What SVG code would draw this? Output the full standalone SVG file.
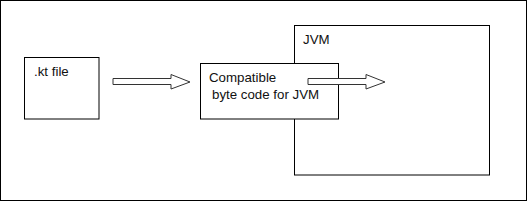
<svg xmlns="http://www.w3.org/2000/svg" width="527" height="201" viewBox="0 0 527 201">
<style>
.box{fill:#fff;stroke:#000;stroke-width:1}
.arrow{fill:#fff;stroke:#333;stroke-width:1}
text{font-family:"Liberation Sans",Arial,sans-serif;font-size:13.3px;fill:#111}
</style>
<rect x="0.5" y="0.5" width="526" height="200" fill="#fff" stroke="#000"/>
<g id="kt"><rect class="box" x="24.5" y="57.5" width="74.5" height="61.5"/><text x="34" y="76">.kt file</text></g>
<g id="jvm"><rect class="box" x="294.5" y="25.5" width="195" height="149.5"/><text x="303" y="44">JVM</text></g>
<g id="bytecode"><rect class="box" x="200.5" y="63.5" width="138" height="55.5"/><text x="209" y="82">Compatible</text><text x="212" y="98.5">byte code for JVM</text></g>
<g id="connectors">
<polygon class="arrow" points="113,78.5 171,78.5 171,74.5 190,82 171,89 171,84.5 113,84.5"/>
<polygon class="arrow" points="308,78.5 366,78.5 366,74.5 385,82 366,89 366,84.5 308,84.5"/>
</g>
</svg>
